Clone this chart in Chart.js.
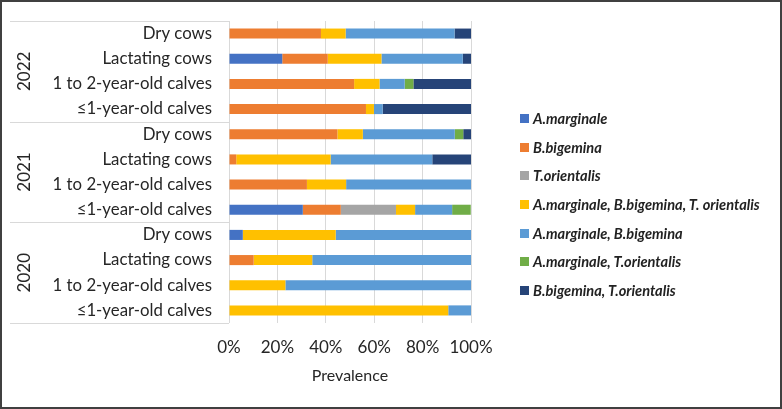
<!DOCTYPE html>
<html>
<head>
<meta charset="utf-8">
<script src="https://cdn.jsdelivr.net/npm/chart.js@4.4.1/dist/chart.umd.min.js"></script>
<style>
    body { margin: 0; background: #fff; }
    #frame { position: relative; width: 782px; height: 409px; box-sizing: border-box; border: 2px solid #404040; background: #fff; }
    #barc01 { position: absolute; left: 0; top: 0; }
    #legende { position: absolute; left: 518px; top: 102px; font-family: Lato, 'Liberation Sans', sans-serif; font-weight: bold; font-style: italic; font-size: 14.6px; color: #222; }
    .leg-item { height: 28.7px; display: flex; align-items: center; white-space: nowrap; }
    .leg-box { width: 9px; height: 9px; margin-right: 4px; display: inline-block; }
</style>
</head>
<body>
<div id="frame">
    <canvas id="barc01" width="778" height="405"></canvas>
    <div id="legende"></div>
</div>
<script>
// categories, top to bottom
const categories = [
    'Dry cows', 'Lactating cows', '1 to 2-year-old calves', '≤1-year-old calves',
    'Dry cows', 'Lactating cows', '1 to 2-year-old calves', '≤1-year-old calves',
    'Dry cows', 'Lactating cows', '1 to 2-year-old calves', '≤1-year-old calves'
];
const years = ['2022', '2021', '2020'];
const xTicks = ['0%', '20%', '40%', '60%', '80%', '100%'];

const seriesNames = [
    'A.marginale',
    'B.bigemina',
    'T.orientalis',
    'A.marginale, B.bigemina, T. orientalis',
    'A.marginale, B.bigemina',
    'A.marginale, T.orientalis',
    'B.bigemina, T.orientalis'
];
const seriesColors = ['#4472C4', '#ED7D31', '#A5A5A5', '#FFC000', '#5B9BD5', '#70AD47', '#264478'];

// prevalence (%) per category
const aMarginale   = [0, 22.0, 0, 0, 0, 0, 0, 30.5, 5.7, 0, 0, 0];
const bBigemina    = [38.0, 18.8, 51.7, 56.6, 44.8, 3.0, 32.2, 15.7, 0, 10.2, 0, 0];
const tOrientalis  = [0, 0, 0, 0, 0, 0, 0, 22.8, 0, 0, 0, 0];
const amBbTo       = [10.2, 22.2, 10.5, 3.3, 10.5, 39.0, 16.2, 7.9, 38.4, 24.2, 23.3, 90.6];
const amBb         = [45.0, 33.6, 10.4, 3.6, 38.0, 42.0, 51.7, 15.3, 55.9, 65.6, 76.7, 9.4];
const amTo         = [0, 0, 3.6, 0, 3.5, 0, 0, 7.7, 0, 0, 0, 0];
const bbTo         = [6.8, 3.4, 23.9, 36.5, 3.2, 16.0, 0, 0, 0, 0, 0, 0];

const seriesValues = [aMarginale, bBigemina, tOrientalis, amBbTo, amBb, amTo, bbTo];

const fontFam = "Lato, 'Liberation Sans', sans-serif";
const txtColor = '#262626';

// year groups + separators on the left
const groupPlugin = {
    id: 'groupes',
    afterDraw(chart) {
        const ctx = chart.ctx;
        const y = chart.scales.y;
        const left = chart.chartArea.left;
        const half = (y.getPixelForValue(1) - y.getPixelForValue(0)) / 2;
        ctx.save();
        ctx.strokeStyle = '#d9d9d9';
        ctx.lineWidth = 1;
        for (let g = 0; g <= years.length; g++) {
            const yy = Math.round(y.getPixelForValue(g * 4) - half) + 0.5;
            ctx.beginPath();
            ctx.moveTo(8, yy);
            ctx.lineTo(left, yy);
            ctx.stroke();
        }
        ctx.fillStyle = txtColor;
        ctx.font = '17px ' + fontFam;
        ctx.textAlign = 'center';
        ctx.textBaseline = 'middle';
        years.forEach((yr, g) => {
            const mid = (y.getPixelForValue(g * 4) + y.getPixelForValue(g * 4 + 3)) / 2;
            ctx.save();
            ctx.translate(23, mid);
            ctx.rotate(-Math.PI / 2);
            ctx.fillText(yr, 0, 0);
            ctx.restore();
        });
        ctx.restore();
    }
};

const ctx = document.getElementById('barc01');
new Chart(ctx, {
    type: 'bar',
    data: {
        labels: categories,
        datasets: seriesNames.map((name, i) => ({
            label: name,
            data: seriesValues[i],
            backgroundColor: seriesColors[i],
            borderWidth: 0,
            barPercentage: 0.4,
            categoryPercentage: 1.0
        }))
    },
    options: {
        indexAxis: 'y',
        responsive: false,
        animation: false,
        layout: { padding: { top: 19, left: 0, right: 309, bottom: 0 } },
        plugins: {
            legend: { display: false },
            tooltip: { enabled: false }
        },
        scales: {
            x: {
                stacked: true,
                min: 0,
                max: 100,
                ticks: {
                    stepSize: 20,
                    padding: 14,
                    maxRotation: 0,
                    minRotation: 0,
                    autoSkip: false,
                    color: txtColor,
                    font: { family: fontFam, size: 17 },
                    callback: (v, i) => xTicks[i]
                },
                grid: { color: '#d9d9d9', drawTicks: false },
                border: { display: false },
                title: {
                    display: true,
                    text: 'Prevalence',
                    color: txtColor,
                    font: { family: fontFam, size: 16 },
                    padding: { top: 0, bottom: 22 }
                },
                afterFit(scale) {
                    scale.height = 84;
                    scale.paddingLeft = 0;
                    scale.paddingRight = 0;
                }
            },
            y: {
                stacked: true,
                ticks: {
                    padding: 17,
                    color: txtColor,
                    font: { family: fontFam, size: 16.8 }
                },
                grid: { display: false, drawTicks: false },
                border: { display: false },
                afterFit(scale) {
                    scale.width = 227;
                    scale.paddingTop = 0;
                    scale.paddingBottom = 0;
                }
            }
        }
    },
    plugins: [groupPlugin]
});

// legend
const legende = document.getElementById('legende');
seriesNames.forEach((name, i) => {
    const item = document.createElement('div');
    item.className = 'leg-item';
    const box = document.createElement('span');
    box.className = 'leg-box';
    box.style.background = seriesColors[i];
    item.appendChild(box);
    item.appendChild(document.createTextNode(name));
    legende.appendChild(item);
});
</script>
</body>
</html>
